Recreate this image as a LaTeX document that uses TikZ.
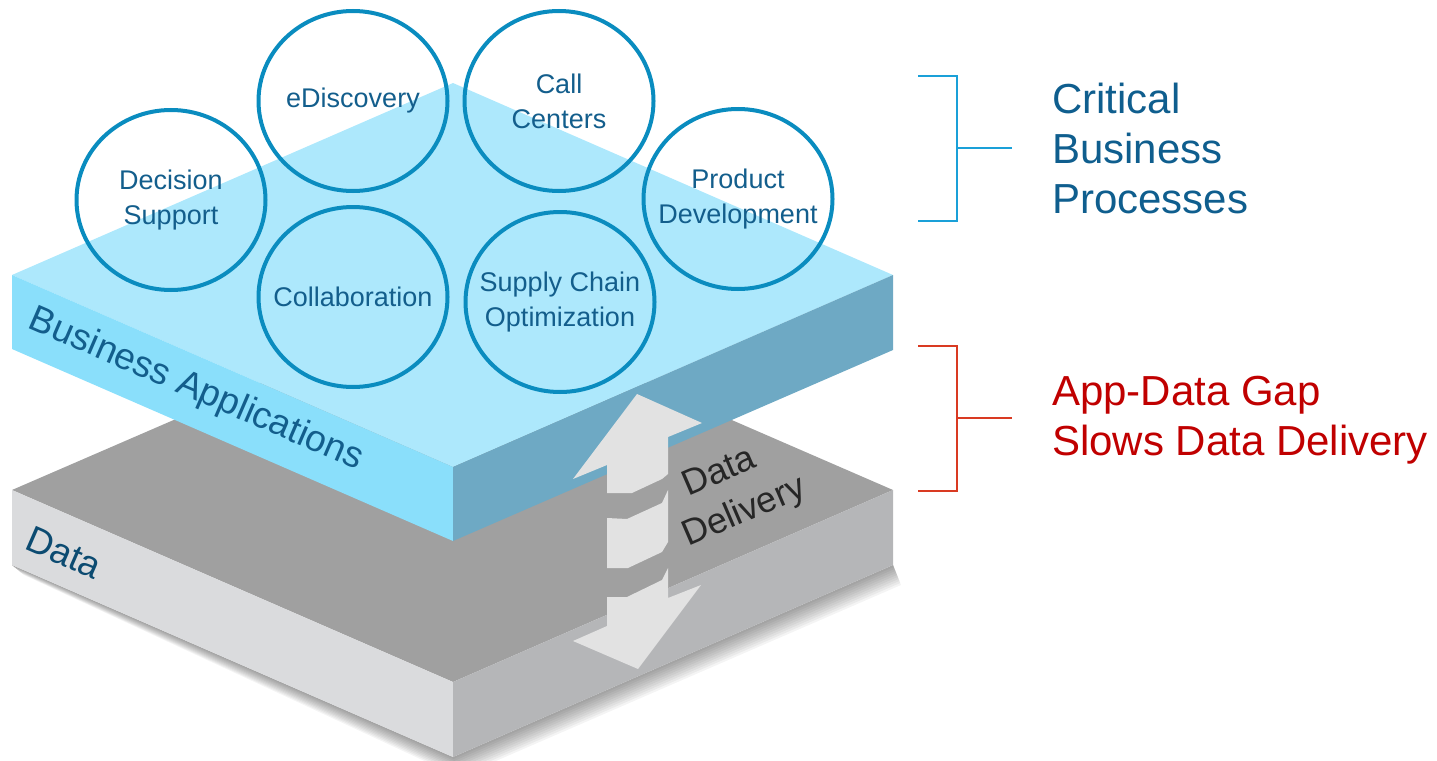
\documentclass[tikz,border=0pt]{standalone}
\usepackage{fontspec}
\setmainfont{Liberation Sans}
\usetikzlibrary{shapes.geometric}

\definecolor{apptop}{HTML}{ADE8FC}
\definecolor{appleft}{HTML}{8ADFFB}
\definecolor{appright}{HTML}{6EA9C4}
\definecolor{datatop}{HTML}{A0A0A0}
\definecolor{dataleft}{HTML}{DADBDD}
\definecolor{dataright}{HTML}{B5B6B8}
\definecolor{arrowgray}{HTML}{E2E2E2}
\definecolor{ringblue}{HTML}{0A8CBF}
\definecolor{procblue}{HTML}{135E8C}
\definecolor{headblue}{HTML}{0F5E8E}
\definecolor{braceblue}{HTML}{1AA0D8}
\definecolor{gapred}{HTML}{C00000}
\definecolor{bracered}{HTML}{D93A22}

\tikzset{
	process/.style={ellipse, draw=ringblue, line width=4pt, minimum width=189pt, minimum height=180pt,
		inner xsep=-30pt, inner ysep=0pt, align=center, text=procblue, font=\fontsize{27}{35}\selectfont},
	layerlabel/.style={inner sep=0pt, font=\fontsize{37}{44}\selectfont},
	headline/.style={anchor=north west, inner sep=0pt, align=left, font=\fontsize{42}{50}\selectfont},
	bracket/.style={line width=2pt}
}

\begin{document}
\begin{tikzpicture}[x=1pt, y=-1pt]
		\useasboundingbox (0,0) rectangle (1437,760);

		% Shadow under the data layer
		\foreach \d in {2,4,...,20}
			\fill[black, opacity=0.045] (12,565) -- (453,757) -- (893,565)
				-- ({893+0.4*\d},{565+\d}) -- ({453+0.3*\d},{757+\d}) -- ({12+0.6*\d},{565+0.5*\d}) -- cycle;

		% Data layer
		\fill[datatop] (12,490) -- (453,299) -- (893,490) -- (453,682) -- cycle;
		\fill[dataleft] (12,490) -- (453,682) -- (453,757) -- (12,565) -- cycle;
		\fill[dataright] (453,682) -- (893,490) -- (893,565) -- (453,757) -- cycle;
		\node[layerlabel, text=headblue!80!black, rotate=-23.5] (data) at (64,553) {Data};

		% Business applications layer
		\fill[apptop] (12,275) -- (453,83) -- (893,275) -- (453,467) -- cycle;
		\fill[appleft] (12,275) -- (453,467) -- (453,541) -- (12,349) -- cycle;
		\fill[appright] (453,467) -- (893,275) -- (893,350) -- (453,541) -- cycle;
		\node[layerlabel, text=procblue, rotate=-23.3] (apps) at (196,390) {Business Applications};

		% Delivery arrow
		\fill[arrowgray] (637,394) -- (702,423) -- (668,437) -- (668,474) -- (662,479) -- (632,493)
			-- (607,493) -- (607,465) -- (573,479) -- cycle;
		\fill[arrowgray] (607,518) -- (627,519) -- (662,503) -- (668,490) -- (668,542) -- (662,552)
			-- (628,568) -- (607,568) -- cycle;
		\fill[arrowgray] (607,597) -- (627,597) -- (662,580) -- (668,568) -- (668,598) -- (701,585)
			-- (638,669) -- (573,641) -- (607,626) -- cycle;
		\node[anchor=base west, inner sep=0pt, rotate=23.3, text=black!85, font=\fontsize{36}{44}\selectfont]
			(deliv1) at (688,497) {Data};
		\node[anchor=base west, inner sep=0pt, rotate=23.3, text=black!85, font=\fontsize{36}{44}\selectfont]
			(deliv2) at (688,547) {Delivery};

		% Processes
		\node[process] (decision) at (171,200) {Decision\\Support};
		\node[process] (ediscovery) at (353,101) {eDiscovery};
		\node[process] (callcenters) at (559,101) {Call\\Centers};
		\node[process] (product) at (738,199) {Product\\Development};
		\node[process] (collab) at (353,297) {Collaboration};
		\node[process] (supply) at (560,302) {Supply Chain\\Optimization};

		% Brackets and captions
		\draw[bracket, braceblue] (918,76) -- (957,76) -- (957,221) -- (918,221);
		\draw[bracket, braceblue] (957,148) -- (1012,148);
		\node[headline, text=headblue] (critical) at (1052,83) {Critical\\Business\\Processes};

		\draw[bracket, bracered] (918,346) -- (957,346) -- (957,491) -- (918,491);
		\draw[bracket, bracered] (957,418) -- (1012,418);
		\node[headline, text=gapred] (gap) at (1052,376) {App-Data Gap\\Slows Data Delivery};
	\end{tikzpicture}
\end{document}
